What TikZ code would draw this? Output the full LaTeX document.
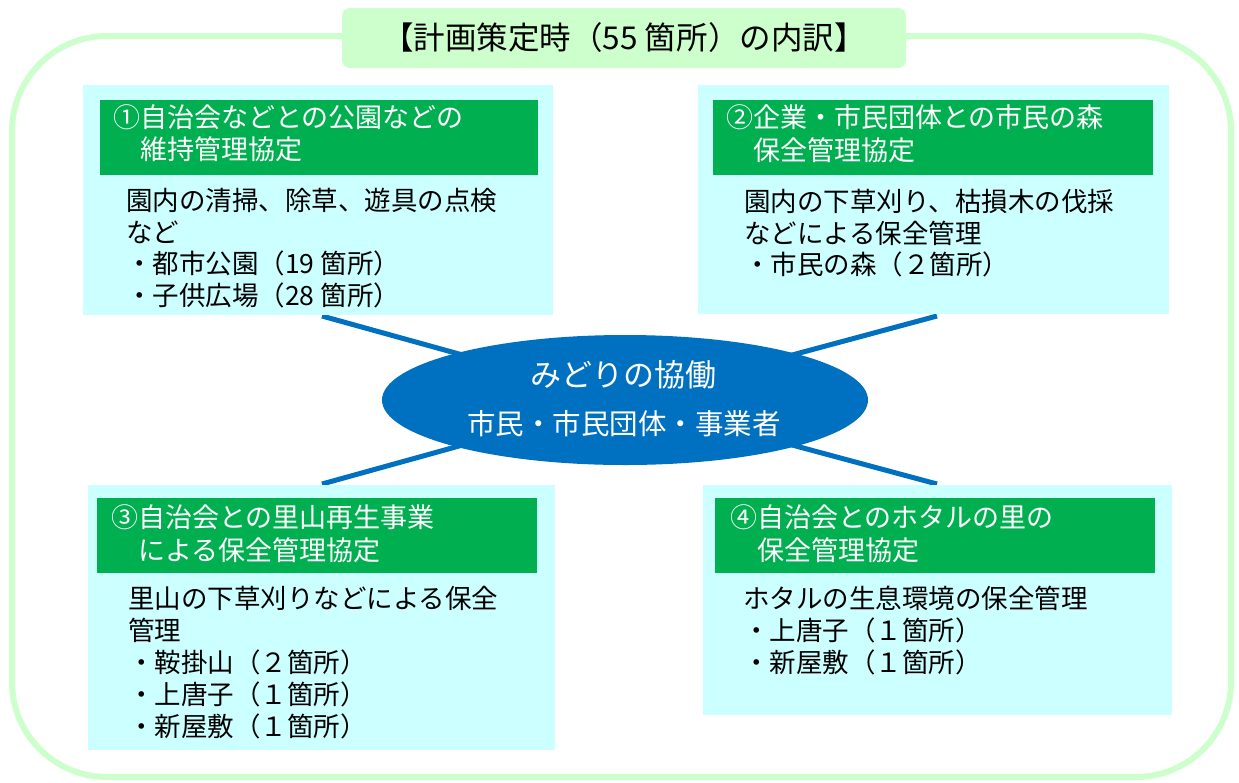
\documentclass[tikz,border=0pt]{standalone}
\usepackage{fontspec}
\newfontfamily\jp{Noto Sans CJK JP}
\usetikzlibrary{shapes.geometric,backgrounds}
\definecolor{paleg}{HTML}{CCFFCC}
\definecolor{palec}{HTML}{CCFFFF}
\definecolor{hdrg}{HTML}{00B050}
\definecolor{blu}{HTML}{0070C0}
\begin{document}
\begin{tikzpicture}[x=1pt,y=-1pt,
  cbox/.style={fill=palec, draw=none, anchor=north west, inner sep=0},
  hbox/.style={fill=hdrg, draw=none, anchor=north west, inner sep=0, minimum height=75pt},
  htxt/.style={font=\jp\fontsize{27}{32}\selectfont, text=white, anchor=base west, inner sep=0},
  btxt/.style={font=\jp\fontsize{26.5}{32}\selectfont, text=black, anchor=base west, inner sep=0},
  etxt/.style={font=\jp\fontsize{#1}{#1}\selectfont, text=white, anchor=center, inner sep=0},
  conn/.style={draw=blu, line width=5pt}]
\useasboundingbox (0,0) rectangle (1239,782);
% outer frame
\node[draw=paleg, line width=6pt, rounded corners=95pt, minimum width=1219pt, minimum height=741pt, inner sep=0] (frame) at (621.5,406.5) {};
% title
\node[fill=paleg, rounded corners=8pt, minimum width=564pt, minimum height=60pt, inner sep=0, font=\jp\fontsize{31.5}{31.5}\selectfont] (title) at (624,38) {【計画策定時（55 箇所）の内訳】};
% boxes
\node[cbox, minimum width=470pt, minimum height=230pt] (box1) at (83,85) {};
\node[hbox, minimum width=438pt] (hdr1) at (100,100) {};
\node[cbox, minimum width=471pt, minimum height=229pt] (box2) at (698,85) {};
\node[hbox, minimum width=440pt] (hdr2) at (713,100) {};
\node[cbox, minimum width=467pt, minimum height=265pt] (box3) at (88,485) {};
\node[hbox, minimum width=440pt] (hdr3) at (97,498) {};
\node[cbox, minimum width=469pt, minimum height=230pt] (box4) at (703,485) {};
\node[hbox, minimum width=440pt] (hdr4) at (715,498) {};
% box 1 text
\node[htxt] (h1a) at (113,127) {①自治会などとの公園などの};
\node[htxt] (h1b) at (113,159) {　維持管理協定};
\node[btxt] (b1a) at (126,210) {園内の清掃、除草、遊具の点検};
\node[btxt] (b1b) at (126,242) {など};
\node[btxt] (b1c) at (126,273) {・都市公園（19 箇所）};
\node[btxt] (b1d) at (126,305) {・子供広場（28 箇所）};
% box 2 text
\node[htxt] (h2a) at (726,127) {②企業・市民団体との市民の森};
\node[htxt] (h2b) at (726,160) {　保全管理協定};
\node[btxt] (b2a) at (744,211) {園内の下草刈り、枯損木の伐採};
\node[btxt] (b2b) at (744,243) {などによる保全管理};
\node[btxt] (b2c) at (744,274) {・市民の森（２箇所）};
% box 3 text
\node[htxt] (h3a) at (111,527) {③自治会との里山再生事業};
\node[htxt] (h3b) at (111,560) {　による保全管理協定};
\node[btxt] (b3a) at (128,608) {里山の下草刈りなどによる保全};
\node[btxt] (b3b) at (128,640) {管理};
\node[btxt] (b3c) at (128,672) {・鞍掛山（２箇所）};
\node[btxt] (b3d) at (128,704) {・上唐子（１箇所）};
\node[btxt] (b3e) at (128,736) {・新屋敷（１箇所）};
% box 4 text
\node[htxt] (h4a) at (730,527) {④自治会とのホタルの里の};
\node[htxt] (h4b) at (730,560) {　保全管理協定};
\node[btxt] (b4a) at (743,608) {ホタルの生息環境の保全管理};
\node[btxt] (b4b) at (743,640) {・上唐子（１箇所）};
\node[btxt] (b4c) at (743,672) {・新屋敷（１箇所）};
% ellipse
\node[ellipse, fill=blu, minimum width=486pt, minimum height=130pt, inner sep=0] (ell) at (625,400) {};
\node[etxt=31] (e1) at (623,375) {みどりの協働};
\node[etxt=28.5] (e2) at (624,424) {市民・市民団体・事業者};
% connectors
\coordinate (c1) at (322,316);
\coordinate (c2) at (937,316);
\coordinate (c3) at (322,484);
\coordinate (c4) at (937,484);
\begin{scope}[on background layer]
\fill[white] (0,0) rectangle (1239,782);
\draw[conn] (c1) -- (ell.center);
\draw[conn] (c2) -- (ell.center);
\draw[conn] (c3) -- (ell.center);
\draw[conn] (c4) -- (ell.center);
\end{scope}
\end{tikzpicture}
\end{document}
